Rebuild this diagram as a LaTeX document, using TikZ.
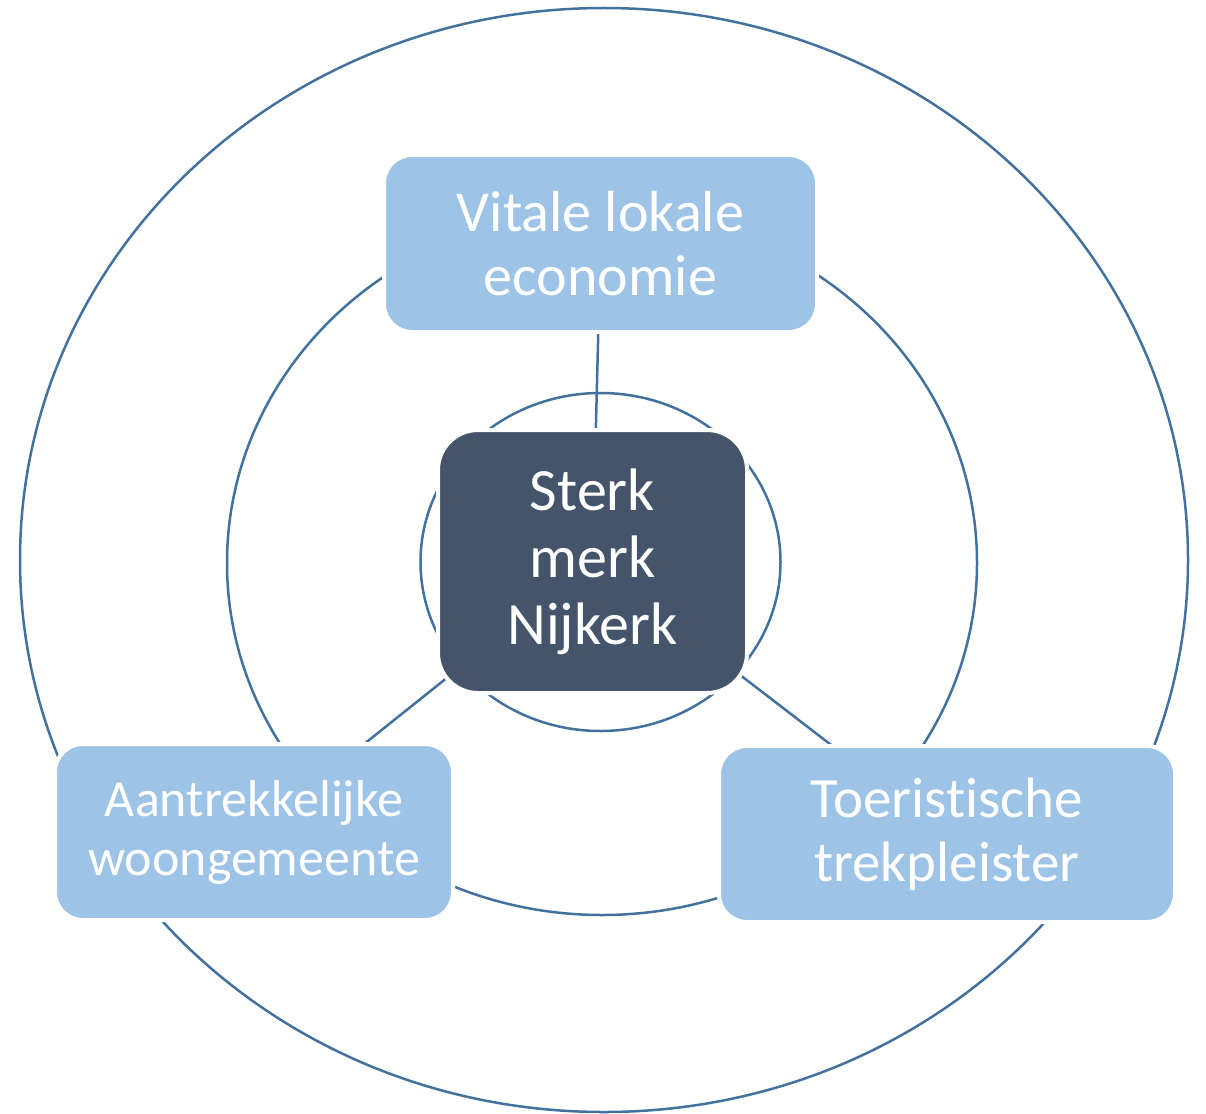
\documentclass[tikz,border=0pt]{standalone}
\usepackage{fontspec}
\setmainfont{Carlito}[Ligatures={NoCommon}]
\pgfdeclarelayer{background}
\pgfsetlayers{background,main}
\definecolor{ringcol}{HTML}{41719C}
\definecolor{lightcol}{HTML}{9DC3E6}
\definecolor{darkcol}{HTML}{44546A}
\tikzset{
  basebox/.style={draw=white, line width=4pt, inner sep=0pt, outer sep=0pt, align=center, text=white},
  lightbox/.style={basebox, fill=lightcol, rounded corners=28pt},
  darkbox/.style={basebox, fill=darkcol, rounded corners=40pt},
  ringline/.style={draw=ringcol, line width=2.5pt},
}
\begin{document}
\begin{tikzpicture}[x=1pt,y=-1pt]
\useasboundingbox (0,0) rectangle (1206,1113);
\node[lightbox, minimum width=433pt, minimum height=177pt, font=\fontsize{58}{64}\selectfont] (top) at (600.5,243.5) {Vitale lokale\\economie};
\node[darkbox, minimum width=309pt, minimum height=263pt, font=\fontsize{60}{67}\selectfont] (ctr) at (592.5,561.5) {Sterk\\merk\\Nijkerk};
\node[lightbox, minimum width=398pt, minimum height=176pt, font=\fontsize{52}{59}\selectfont] (bl) at (254,832) {Aantrekkelijke\\woongemeente};
\node[lightbox, minimum width=456pt, minimum height=176pt, font=\fontsize{57}{64}\selectfont] (br) at (947,834) {Toeristische\\trekpleister};
\begin{pgfonlayer}{background}
  \draw[ringline] (604,560) ellipse [x radius=584pt, y radius=552pt];
  \draw[ringline] (602,563) ellipse [x radius=375pt, y radius=352pt];
  \draw[ringline] (600.5,562) ellipse [x radius=180pt, y radius=169pt];
  \draw[ringline] (ctr.center) -- (top.center);
  \draw[ringline] (ctr.center) -- (bl.center);
  \draw[ringline] (ctr.center) -- (br.center);
\end{pgfonlayer}
\end{tikzpicture}
\end{document}
